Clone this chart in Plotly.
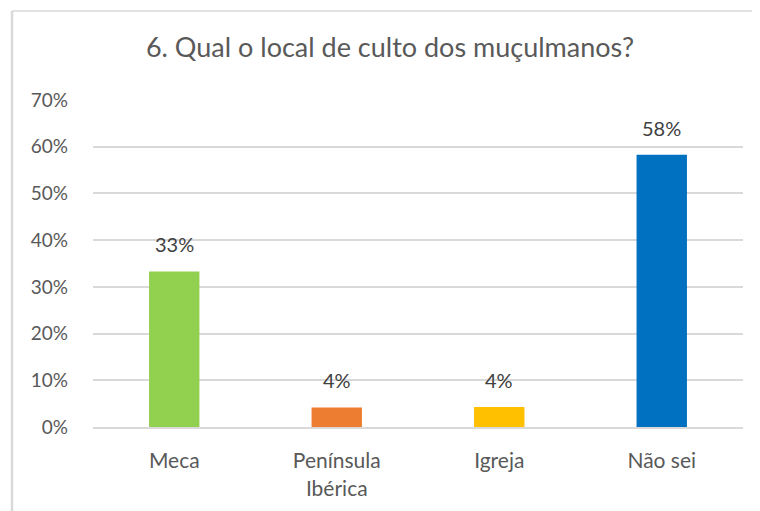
import plotly.graph_objects as go

categories = ["Meca", "Península<br>Ibérica", "Igreja", "Não sei"]
values = [0.333, 0.042, 0.043, 0.583]
labels = ["33%", "4%", "4%", "58%"]
colors = ["#92D050", "#ED7D31", "#FFC000", "#0070C0"]
tick_vals = [0, 0.1, 0.2, 0.3, 0.4, 0.5, 0.6, 0.7]
tick_text = ["0%", "10%", "20%", "30%", "40%", "50%", "60%", "70%"]

# the page places the figure 8px in from the top-left corner
OFF = 8
W, H = 760 - OFF, 511 - OFF
L, R, T, B = 93 - OFF, 17, 100 - OFF, 84
pw, ph = W - L - R, H - T - B

def px_x(px):
    return (px - OFF - L) / pw

def px_y(py):
    return (H - B - (py - OFF)) / ph

FONT = "Lato, Calibri, Carlito, sans-serif"

fig = go.Figure(go.Bar(
    x=categories, y=values, marker_color=colors, marker_line_width=0,
))

for c, v, t in zip(categories, values, labels):
    fig.add_annotation(x=c, y=v, text=t, showarrow=False,
                       yanchor="bottom", yshift=13,
                       font=dict(family=FONT, size=20, color="#404040"))

fig.update_layout(
    width=W, height=H,
    margin=dict(l=L, r=R, t=T, b=B),
    paper_bgcolor="white", plot_bgcolor="white",
    bargap=0.69,
    showlegend=False,
    title=dict(text="6. Qual o local de culto dos muçulmanos?",
               x=px_x(390), xref="paper", xanchor="center",
               y=1 - (48 - OFF) / H, yref="container", yanchor="middle",
               font=dict(family=FONT, size=27, color="#595959")),
    xaxis=dict(showgrid=False, showline=True, linecolor="#D9D9D9", linewidth=2,
               ticks="", tickfont=dict(family=FONT, size=21, color="#595959"),
               ticklabelstandoff=14),
    yaxis=dict(range=[0, 0.7], tickvals=tick_vals, ticktext=tick_text,
               showgrid=True, gridcolor="#D9D9D9", gridwidth=1.5,
               zeroline=False, showline=False, ticks="",
               tickfont=dict(family=FONT, size=19, color="#595959"),
               ticklabelstandoff=24),
    shapes=[
        dict(type="line", xref="paper", yref="paper",
             x0=px_x(12), x1=px_x(760), y0=px_y(11), y1=px_y(11),
             line=dict(color="#D9D9D9", width=1.5)),
        dict(type="line", xref="paper", yref="paper",
             x0=px_x(12), x1=px_x(12), y0=px_y(11), y1=px_y(511),
             line=dict(color="#D9D9D9", width=2.5)),
    ],
)

fig.write_html("out.html")
